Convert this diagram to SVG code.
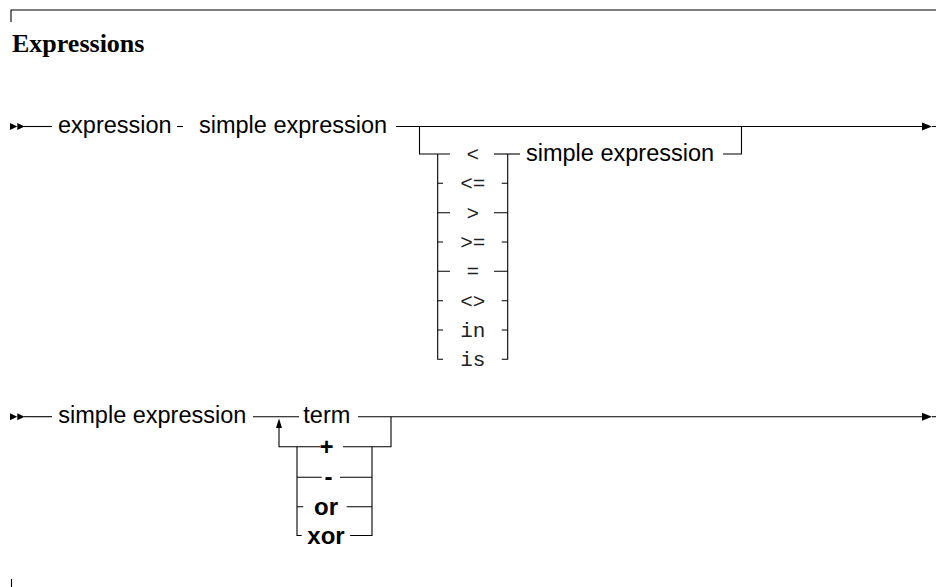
<svg xmlns="http://www.w3.org/2000/svg" width="936" height="587" viewBox="0 0 936 587">
<defs>
<style>
.ln{fill:none;stroke:#000;stroke-width:1.1}
.ah{fill:#000;stroke:none}
.t{font-family:"Liberation Sans",Arial,sans-serif;font-size:23.5px;fill:#000}
.b{font-family:"Liberation Sans",Arial,sans-serif;font-size:24px;font-weight:bold;fill:#000;text-anchor:middle}
.m{font-family:"Liberation Mono","Courier New",monospace;font-size:21px;fill:#222;text-anchor:middle}
.h{font-family:"Liberation Serif","Times New Roman",serif;font-size:26px;font-weight:bold;fill:#000}
</style>
</defs>
<rect width="936" height="587" fill="#fff"/>
<g id="frame">
<path class="ln" d="M11,22 V10 H936"/>
<path class="ln" d="M11.5,579 V587"/>
</g>
<g id="title"><text class="h" x="12" y="52">Expressions</text></g>

<g id="connectors">
<!-- diagram 1 -->
<polygon class="ah" points="10,123 17.3,126.5 10,130"/>
<polygon class="ah" points="17.3,123 24.6,126.5 17.3,130"/>
<path class="ln" d="M24,126.5 H52"/>
<path class="ln" d="M177,126.5 H183"/>
<path class="ln" d="M396,126.5 H924"/>
<polygon class="ah" points="922,122.5 932,126.5 922,130.5"/>
<path class="ln" d="M932,126.5 H936"/>
<path class="ln" d="M419.5,126.5 V154 H450"/>
<path class="ln" d="M494,154 H520"/>
<path class="ln" d="M723,154 H741.5 V126.5"/>
<path class="ln" d="M437.7,154 V359.3 H443"/>
<path class="ln" d="M507.7,154 V359.3 H501.7"/>
<path class="ln" d="M437.7,183.3 H443 M501.7,183.3 H507.7"/>
<path class="ln" d="M437.7,212.7 H450 M494,212.7 H507.7"/>
<path class="ln" d="M437.7,242 H443 M501.7,242 H507.7"/>
<path class="ln" d="M437.7,271.3 H450 M494,271.3 H507.7"/>
<path class="ln" d="M437.7,300.7 H443 M501.7,300.7 H507.7"/>
<path class="ln" d="M437.7,330 H443 M501.7,330 H507.7"/>
<!-- diagram 2 -->
<polygon class="ah" points="10,413.2 17.3,416.7 10,420.2"/>
<polygon class="ah" points="17.3,413.2 24.6,416.7 17.3,420.2"/>
<path class="ln" d="M24,416.7 H52"/>
<path class="ln" d="M253,416.7 H299"/>
<path class="ln" d="M358,416.7 H924"/>
<polygon class="ah" points="922,412.7 932,416.7 922,420.7"/>
<path class="ln" d="M932,416.7 H936"/>
<path class="ln" d="M391,416.7 V446.7 H343"/>
<path class="ln" d="M320,446.7 H279 V427"/>
<polygon class="ah" points="276,428 279,418.5 282,428"/>
<path class="ln" d="M297,446.7 V535.5 H301.7"/>
<path class="ln" d="M372,446.7 V535.5 H350"/>
<path class="ln" d="M297,477.3 H321.7 M340,477.3 H372"/>
<path class="ln" d="M297,506.7 H303.3 M346.7,506.7 H372"/>
</g>

<g id="n-expression"><text class="t" x="58" y="133">expression</text></g>
<g id="n-simple-expression-1"><text class="t" x="199" y="133">simple expression</text></g>
<g id="n-lt"><text class="m" x="472.8" y="161">&lt;</text></g>
<g id="n-le"><text class="m" x="472.8" y="190.3">&lt;=</text></g>
<g id="n-gt"><text class="m" x="472.8" y="219.7">&gt;</text></g>
<g id="n-ge"><text class="m" x="472.8" y="249">&gt;=</text></g>
<g id="n-eq"><text class="m" x="472.8" y="278.3">=</text></g>
<g id="n-ne"><text class="m" x="472.8" y="307.7">&lt;&gt;</text></g>
<g id="n-in"><text class="m" x="472.8" y="337">in</text></g>
<g id="n-is"><text class="m" x="472.8" y="366.3">is</text></g>
<g id="n-simple-expression-2"><text class="t" x="526" y="160.5">simple expression</text></g>

<g id="n-simple-expression-3"><text class="t" x="58.3" y="423.2">simple expression</text></g>
<g id="n-term"><text class="t" x="303.3" y="423.2">term</text></g>
<g id="n-plus"><text class="b" x="326.5" y="454.7">+</text></g>
<g id="n-minus"><text class="b" x="328.5" y="485.3">-</text></g>
<g id="n-or"><text class="b" x="326" y="514.7">or</text></g>
<g id="n-xor"><text class="b" x="326" y="543.5">xor</text></g>
</svg>
